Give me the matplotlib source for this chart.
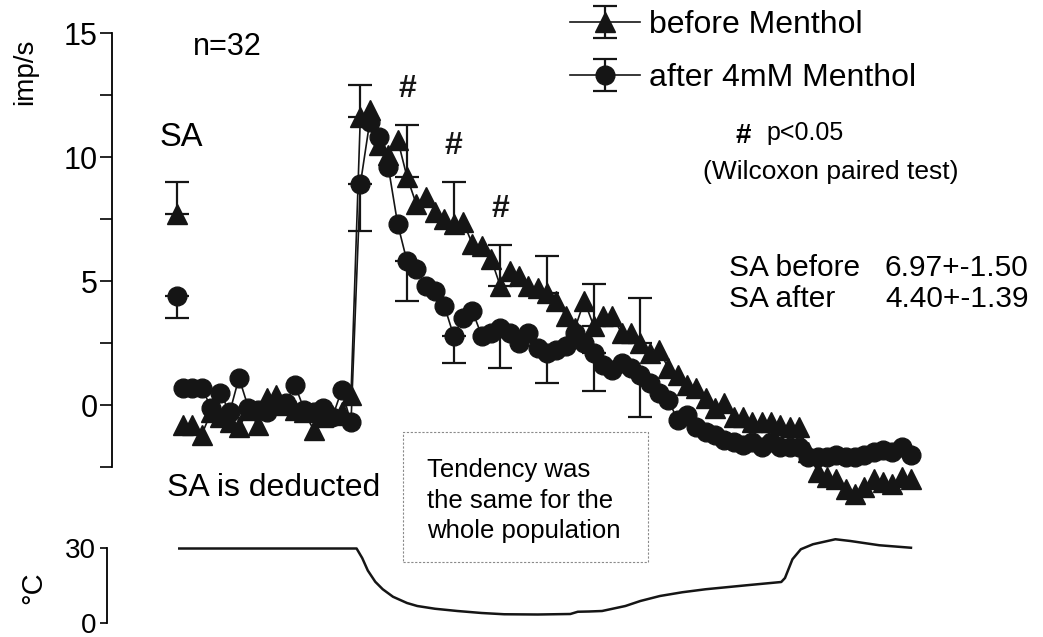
import numpy as np
import matplotlib
matplotlib.use("Agg")
import matplotlib.pyplot as plt
from matplotlib.patches import Rectangle

plt.rcParams['font.family'] = ['Liberation Sans', 'DejaVu Sans']

# one point per time bin
bins = np.arange(79)

before = [-0.8, -0.8, -1.2, -0.3, -0.5, -0.7, -0.9, -0.2, -0.8, 0.3,
          0.4, 0.0, -0.2, -0.3, -1.0, -0.5, -0.4, -0.3, 0.4, 11.6,
          11.9, 10.5, 10.1, 10.7, 9.2, 8.1, 8.4, 7.8, 7.5, 7.3,
          7.4, 6.5, 6.4, 5.9, 4.8, 5.4, 5.2, 4.8, 4.7, 4.5,
          4.2, 3.6, 3.1, 4.2, 3.2, 3.6, 3.6, 2.9, 2.9, 2.5,
          2.1, 2.2, 1.5, 1.2, 0.8, 0.7, 0.3, -0.1, 0.1, -0.5,
          -0.5, -0.7, -0.7, -0.7, -0.8, -0.9, -0.9, -1.9, -2.7, -2.9,
          -3.0, -3.4, -3.6, -3.3, -3.0, -3.1, -3.2, -2.9, -3.0]

after = [0.7, 0.7, 0.7, -0.1, 0.5, -0.3, 1.1, -0.1, -0.2, -0.3,
         0.0, 0.1, 0.8, -0.2, -0.3, -0.1, -0.5, 0.6, -0.7, 8.9,
         11.4, 10.8, 9.6, 7.3, 5.8, 5.5, 4.8, 4.6, 4.0, 2.8,
         3.5, 3.8, 2.8, 2.9, 3.1, 2.9, 2.5, 2.9, 2.3, 2.1,
         2.2, 2.4, 2.9, 2.5, 2.1, 1.6, 1.4, 1.7, 1.5, 1.2,
         0.9, 0.5, 0.2, -0.6, -0.4, -0.9, -1.1, -1.2, -1.4, -1.5,
         -1.6, -1.5, -1.7, -1.5, -1.7, -1.7, -1.7, -2.1, -2.1, -2.1,
         -2.0, -2.1, -2.1, -2.0, -1.9, -1.8, -1.9, -1.7, -2.0]

# SEM shown every 5th bin (upper for before, lower for after)
err_bins = [19, 24, 29, 34, 39, 44, 49]
before_err = [1.3, 2.1, 1.7, 1.65, 1.5, 1.7, 1.8]
after_err = [1.9, 1.6, 1.1, 1.6, 1.2, 1.55, 1.7]
signif_bins = [24, 29, 34]

# spontaneous activity
sa_x = -0.6
sa_before, sa_before_err = 7.7, 1.3
sa_after, sa_after_err = 4.4, 0.9

# bath temperature
temp_t = [-0.4, 18.6, 19.2, 19.8, 20.6, 21.4, 22.5, 24.0, 25.1, 27.0, 29.4,
          32.0, 34.4, 38.0, 41.5, 42.3, 43.5, 44.9, 47.4, 49.0, 51.1, 53.5,
          56.0, 60.4, 64.1, 64.5, 65.3, 66.2, 67.5, 69.9, 71.5, 74.6, 78.0]
temp_c = [29.8, 29.8, 26.0, 21.0, 16.5, 13.5, 10.5, 8.0, 6.8, 5.7, 4.8,
          4.0, 3.5, 3.4, 3.6, 4.5, 4.6, 4.8, 6.8, 8.8, 10.8, 12.3,
          13.5, 15.1, 16.4, 18.0, 25.5, 29.5, 31.5, 33.5, 32.8, 31.1, 30.1]

W, H = 1043, 637
K = '#151515'


def fx(px):
    return px / W


def fy(py):
    return 1 - py / H


def main():
    fig = plt.figure(figsize=(W / 100, H / 100), dpi=100)

    x0, dx = 183.0, 9.333
    ax = fig.add_axes([fx(112), fy(509.2), 918 / W, 496 / H])
    ax.set_xlim((112 - x0) / dx, (1030 - x0) / dx)
    ax.set_ylim(-4.2, 15.8)

    mask = np.isin(bins, err_bins)
    up = np.zeros(len(bins))
    lo = np.zeros(len(bins))
    up[err_bins] = before_err
    lo[err_bins] = after_err
    zero = np.zeros(len(bins))

    h1 = ax.errorbar(bins, before, yerr=[zero, up], errorevery=mask,
                     fmt='-^', color=K, ms=14, lw=1.2, elinewidth=1.6,
                     capsize=8.5, capthick=1.6, label='before Menthol', clip_on=False)
    h2 = ax.errorbar(bins, after, yerr=[lo, zero], errorevery=mask,
                     fmt='-o', color=K, ms=13.5, lw=1.2, elinewidth=1.6,
                     capsize=8.5, capthick=1.6, label='after 4mM Menthol', clip_on=False)

    ax.errorbar([sa_x], [sa_before], yerr=[[0], [sa_before_err]], fmt='^', color=K,
                ms=14, elinewidth=1.6, capsize=8.5, capthick=1.6)
    ax.errorbar([sa_x], [sa_after], yerr=[[sa_after_err], [0]], fmt='o', color=K,
                ms=13.5, elinewidth=1.6, capsize=8.5, capthick=1.6)

    for b in signif_bins:
        top = before[b] + before_err[err_bins.index(b)]
        ax.text(b, top + 1.45, '#', ha='center', va='center',
                fontsize=23, fontweight='bold', color=K)

    for s in ['top', 'right', 'bottom']:
        ax.spines[s].set_visible(False)
    ax.spines['left'].set_bounds(-2.5, 15)
    ax.spines['left'].set_linewidth(1.3)
    ax.set_xticks([])
    ax.set_yticks([-2.5, 0, 2.5, 5, 7.5, 10, 12.5, 15])
    ax.set_yticklabels(['', '0', '', '5', '', '10', '', '15'])
    ax.tick_params(axis='y', length=8.6, width=1.3, labelsize=22, pad=1.5, color=K)

    ax.legend(handles=[h1, h2], loc='upper left', frameon=False,
              bbox_to_anchor=(fx(570), fy(10)), bbox_transform=fig.transFigure,
              borderpad=0, borderaxespad=0, handlelength=2.2, handletextpad=0.28,
              labelspacing=0.72, fontsize=23)

    # temperature trace
    ax2 = fig.add_axes([fx(107), fy(628), 923 / W, 95 / H])
    ax2.set_xlim((107 - x0) / dx, (1030 - x0) / dx)
    ax2.set_ylim(-2, 36)
    ax2.plot(temp_t, temp_c, color=K, lw=1.8)
    for s in ['top', 'right', 'bottom']:
        ax2.spines[s].set_visible(False)
    ax2.spines['left'].set_bounds(0, 30)
    ax2.spines['left'].set_linewidth(1.3)
    ax2.set_xticks([])
    ax2.set_yticks([0, 30])
    ax2.tick_params(axis='y', length=5, width=1.3, labelsize=20, pad=3, color=K)

    fig.text(fx(25), fy(72), 'imp/s', rotation=90, ha='center', va='center', fontsize=20)
    fig.text(fx(33), fy(588), '°C', rotation=90, ha='center', va='center', fontsize=21)

    fig.text(fx(193), fy(47), 'n=32', ha='left', va='center', fontsize=22)
    fig.text(fx(160), fy(137), 'SA', ha='left', va='center', fontsize=23.5)
    fig.text(fx(167), fy(488), 'SA is deducted', ha='left', va='center', fontsize=23)

    fig.add_artist(Rectangle((fx(403), fy(562)), 245 / W, 130 / H, transform=fig.transFigure,
                             fill=False, ec='#8a8a8a', lw=0.8, ls=(0, (2, 1.5))))
    fig.text(fx(427), fy(458), 'Tendency was\nthe same for the\nwhole population',
             ha='left', va='top', fontsize=18.5, linespacing=1.35)

    fig.text(fx(743), fy(136), '#', ha='center', va='center', fontsize=20, fontweight='bold')
    fig.text(fx(766), fy(133), 'p<0.05', ha='left', va='center', fontsize=18)
    fig.text(fx(703), fy(172), '(Wilcoxon paired test)', ha='left', va='center', fontsize=19)

    fig.text(fx(729), fy(268), 'SA before', ha='left', va='center', fontsize=21.5)
    fig.text(fx(885), fy(268), '6.97+-1.50', ha='left', va='center', fontsize=21.5)
    fig.text(fx(729), fy(299), 'SA after', ha='left', va='center', fontsize=21.5)
    fig.text(fx(885), fy(299), '4.40+-1.39', ha='left', va='center', fontsize=21.5)

    fig.savefig('out.png', dpi=100)


if __name__ == "__main__":
    main()
